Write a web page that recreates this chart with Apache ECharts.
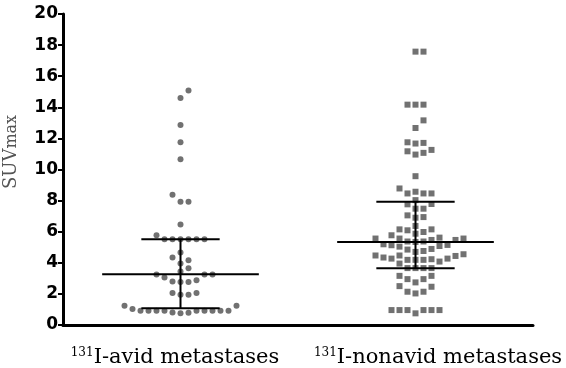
<!DOCTYPE html>
<html><head><meta charset="utf-8">
<script src="https://cdn.jsdelivr.net/npm/echarts@6/dist/echarts.min.js"></script>
<style>html,body{margin:0;padding:0;background:#fff}#c{width:566px;height:368px}</style>
</head><body><div id="c"></div>
<script>
// ---- data ----
const categories = ['131I-avid metastases', '131I-nonavid metastases'];
const avidValues = [15.08, 14.6, 12.86, 11.75, 10.66, 8.38, 7.93, 7.93, 6.47, 5.77,
  5.51, 5.51, 5.51, 5.51, 5.51, 5.51, 4.66, 4.34, 4.17, 3.95, 3.65, 3.44,
  3.25, 3.25, 3.25, 3.05, 2.88, 2.80, 2.76, 2.76, 2.05, 2.05, 1.94, 1.94,
  1.24, 1.24, 1.03, 0.92, 0.92, 0.92, 0.92, 0.92, 0.92, 0.92, 0.92, 0.92,
  0.80, 0.78, 0.76];
const nonavidValues = [17.58, 17.58, 14.17, 14.17, 14.17, 13.16, 12.67,
  11.75, 11.71, 11.67, 11.26, 11.17, 11.07, 10.96, 9.57, 8.78,
  8.57, 8.46, 8.46, 8.46, 8.03, 7.78, 7.76, 7.48, 7.48, 7.05, 6.94, 6.90,
  6.37, 6.15, 6.15, 6.09, 5.98, 5.87,
  5.77, 5.62, 5.56, 5.56, 5.56, 5.47, 5.47, 5.37, 5.37, 5.34,
  5.19, 5.15, 5.13, 5.08, 5.04, 4.89, 4.85, 4.76, 4.70,
  4.55, 4.47, 4.47, 4.44, 4.34, 4.27, 4.27, 4.23, 4.19, 4.19, 4.19, 4.08, 3.95,
  3.66, 3.66, 3.66, 3.66, 3.16, 3.16, 2.95, 2.95, 2.74,
  2.50, 2.46, 2.14, 2.14, 2.03, 0.96, 0.96, 0.96, 0.96, 0.96, 0.96, 0.75];
const groupValues = [avidValues, nonavidValues];
const medianValues = [3.27, 5.34];
const q1Values = [1.07, 3.65];
const q3Values = [5.51, 7.93];
const yMin = 0, yMax = 20, yStep = 2;

// ---- layout / style ----
const W = 566, H = 368;
const grid = { left: 63, right: 33, top: 14, bottom: 42 };
const colStepPx = 8, collidePx = 7.8;
const pxPerX = (W - grid.left - grid.right) / categories.length;
const pxPerY = (H - grid.top - grid.bottom) / (yMax - yMin);

// beeswarm placement computed from the values
function swarm(values, center) {
  const stepX = colStepPx / pxPerX, thr = collidePx / pxPerY;
  const order = [0];
  for (let k = 1; k < 40; k++) { order.push(k, -k); }
  const placed = [];
  values.slice().sort((a, b) => a - b).forEach(v => {
    for (const col of order) {
      if (!placed.some(p => p.col === col && Math.abs(p.v - v) < thr)) {
        placed.push({ col, v }); break;
      }
    }
  });
  return placed.map(p => [center + p.col * stepX, p.v]);
}

const chart = echarts.init(document.getElementById('c'), null, { renderer: 'canvas' });
const serif = 'DejaVu Serif';
chart.setOption({
  animation: false,
  backgroundColor: '#fff',
  grid: { left: grid.left, right: grid.right, top: grid.top, bottom: grid.bottom },
  xAxis: [{
    type: 'category', data: categories, position: 'bottom',
    axisLine: { lineStyle: { color: '#000', width: 3 } },
    axisTick: { alignWithLabel: true, length: 5, lineStyle: { color: '#000', width: 2 } },
    axisLabel: {
      interval: 0, margin: 22,
      formatter: (value, idx) => {
        const m = value.match(/^(\d+)(.*)$/);
        return idx === 0 ? '{sup|' + m[1] + '}{t|' + m[2] + '}{padR| }'
                         : '{padL| }{sup|' + m[1] + '}{t|' + m[2] + '}';
      },
      rich: {
        sup: { fontSize: 12, fontFamily: serif, color: '#000', verticalAlign: 'top' },
        t: { fontSize: 21, fontFamily: serif, color: '#000' },
        padR: { width: 11, fontSize: 21 },
        padL: { width: 45, fontSize: 21 }
      }
    },
    splitLine: { show: false }
  }, {
    type: 'value', min: 0, max: categories.length, show: false, position: 'bottom'
  }],
  yAxis: {
    type: 'value', min: yMin, max: yMax, interval: yStep,
    axisLine: { show: true, lineStyle: { color: '#000', width: 3 } },
    axisTick: { show: true, length: 5, lineStyle: { color: '#000', width: 2 } },
    axisLabel: { margin: 5, fontFamily: 'DejaVu Sans', fontWeight: 'bold', fontSize: 17, color: '#000' },
    splitLine: { show: false }
  },
  graphic: [{
    type: 'text', x: 11, y: 152, rotation: Math.PI / 2,
    style: {
      text: '{a|SUV}{b|max}', align: 'center', verticalAlign: 'middle', fill: '#555',
      rich: {
        a: { fontSize: 18, fontFamily: serif, fill: '#555', verticalAlign: 'bottom' },
        b: { fontSize: 16, fontFamily: serif, fill: '#555', verticalAlign: 'bottom' }
      }
    }
  }],
  series: [
    {
      type: 'scatter', xAxisIndex: 1, symbol: 'circle', symbolSize: 6,
      itemStyle: { color: '#4d4d4d' }, z: 2,
      data: swarm(groupValues[0], 0.5)
    },
    {
      type: 'scatter', xAxisIndex: 1, symbol: 'rect', symbolSize: 6,
      itemStyle: { color: '#4d4d4d' }, z: 2,
      data: swarm(groupValues[1], 1.5)
    },
    {
      type: 'custom', xAxisIndex: 1, z: 5,
      data: categories.map((c, i) => [i + 0.5, medianValues[i], q1Values[i], q3Values[i]]),
      renderItem: (params, api) => {
        const x = api.value(0);
        const m = api.coord([x, api.value(1)]);
        const lo = api.coord([x, api.value(2)]);
        const hi = api.coord([x, api.value(3)]);
        const band = api.size([1, 0])[0];
        const mh = band / 3, ch = band / 6;
        const st = { stroke: '#000', lineWidth: 2 };
        return {
          type: 'group', children: [
            { type: 'line', shape: { x1: m[0] - mh, y1: m[1], x2: m[0] + mh, y2: m[1] }, style: st },
            { type: 'line', shape: { x1: lo[0], y1: lo[1], x2: hi[0], y2: hi[1] }, style: st },
            { type: 'line', shape: { x1: lo[0] - ch, y1: lo[1], x2: lo[0] + ch, y2: lo[1] }, style: st },
            { type: 'line', shape: { x1: hi[0] - ch, y1: hi[1], x2: hi[0] + ch, y2: hi[1] }, style: st }
          ]
        };
      }
    }
  ]
});
</script></body></html>
